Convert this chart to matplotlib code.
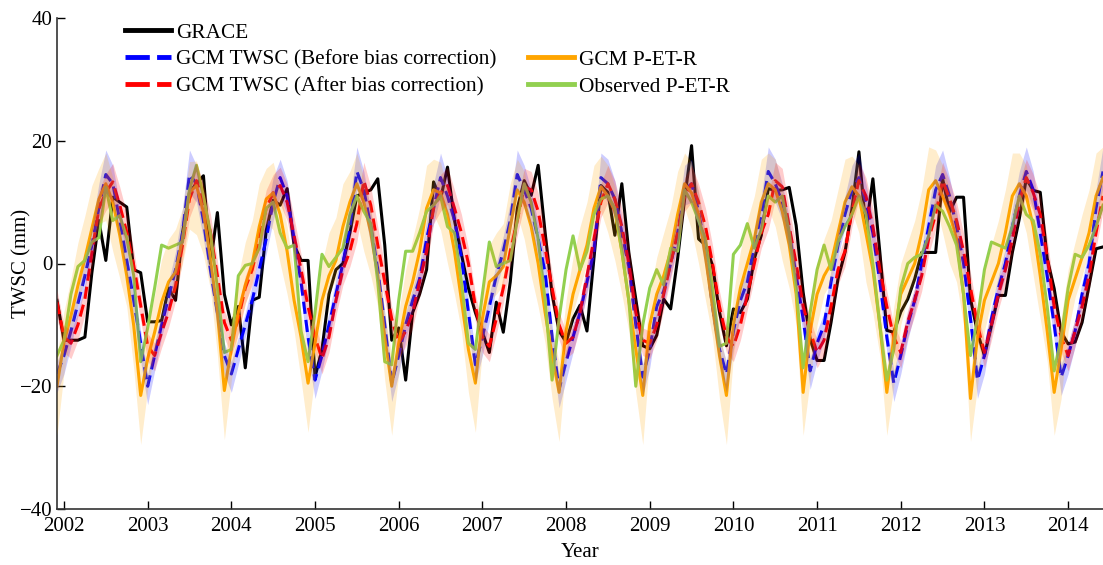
import numpy as np
import matplotlib
matplotlib.use('Agg')
import matplotlib.pyplot as plt
from matplotlib.lines import Line2D

plt.rcParams['font.family'] = ['Liberation Serif', 'DejaVu Serif']

# monthly values, Dec 2001 .. Jun 2014 (151 points), TWSC in mm
grace = ([-6] +
         [-12.5, -12.5, -12.5, -12, -1.5, 7, 0.5, 10.8, 10, 9.2, -1, -1.5] +        # 2002
         [-9.5, -9.5, -9.3, -4, -6, 5, 11.6, 13, 14.3, 0, 8.3, -5] +                # 2003
         [-10, -7, -17, -6, -5.5, 5.4, 10.3, 9.5, 12.2, 3, 0.5, 0.5] +              # 2004
         [-18.5, -14, -5, -1, 0, 5, 11, 11.5, 12, 13.8, 3, -12.5] +                 # 2005
         [-10.5, -19, -8, -5, -1, 13.3, 10.5, 15.7, 7, 1.5, -4, -8] +               # 2006
         [-11.2, -14.5, -6.3, -11.2, -3, 8.9, 13.5, 11.1, 16, 5, -5, -11] +         # 2007
         [-12.8, -9, -6.8, -11, 0.8, 12.7, 11.6, 4.6, 13, 1.8, -5.8, -13.4] +       # 2008
         [-13.9, -11.7, -5.8, -7.4, 0.8, 10.5, 19.2, 4, 3, -0.3, -7.9, -13.4] +     # 2009
         [-7.4, -8, -5.8, 0.8, 4.6, 12.2, 11.9, 12, 12.4, 6.2, -4.7, -12.3] +       # 2010
         [-15.8, -15.8, -9.6, -2.5, 1.8, 8.9, 18.2, 5.5, 13.8, 1.8, -10.9, -11.2] + # 2011
         [-7.9, -5.8, -2.5, 1.8, 1.8, 1.8, 13.8, 8.4, 10.8, 10.8, -5.8, -11.2] +    # 2012
         [-15, -10.1, -5.2, -5.2, 1.8, 7.3, 13.8, 11.9, 11.6, 0.8, -4.1, -11.2] +   # 2013
         [-13.1, -12.8, -9.6, -3.6, 2.4, 2.7])                                      # 2014

gcm_before = ([-18] +
              [-15, -11, -6.5, -2, 3, 9, 14.5, 13, 7, 0.5, -6, -13] +
              [-20, -15, -10, -5.5, -1, 5, 14.5, 13, 7, -1, -8, -15] +
              [-18, -14, -10, -6, -1, 4, 10, 14, 11, 4, -3, -12] +
              [-19, -15, -10, -5, 0, 6, 15, 12, 6, -1, -10, -19.5] +
              [-15, -10, -6, -2.5, 4, 9, 14, 11, 7, 1, -8, -16.5] +
              [-12, -7, -2, 2, 7, 14.5, 12, 9, 4, -1.5, -12, -20.5] +
              [-16, -12, -8, -3, 2, 14, 13, 10.5, 5, -0.5, -10, -18.5] +
              [-14, -7, -4.5, 0, 5, 12, 13, 8.5, 2, -7, -14, -18] +
              [-11, -6, -3, 3, 8, 15, 13, 10, 5, -2, -9, -17.5] +
              [-13, -10, -3, 3, 8, 12, 14, 10, 5, -3, -12, -19.5] +
              [-15, -10, -6, 0, 6, 12, 14.5, 11, 6, 0, -9, -19] +
              [-15, -9, -4, 0, 6, 11, 15, 12, 5, -2, -10, -18.5] +
              [-15, -11, -5, 0, 9, 15])

gcm_after = ([-6.3] +
             [-12, -13, -10, -5.8, 1.8, 8.9, 11.6, 13.3, 9.5, 5.1, -0.3, -6.8] +
             [-13.4, -15, -11.2, -7.9, -3.6, 3, 10.5, 13.5, 10, 5.1, -2, -9.6] +
             [-12.5, -9, -4, -1, 4, 9, 11.5, 12.7, 10, 4.5, -1, -7] +
             [-12, -15.5, -12, -6, -1, 2, 6.5, 13.5, 9.5, 3, -3, -9] +
             [-13, -11, -8, -3, 2, 9, 11.5, 12.7, 9, 5, 0, -7] +
             [-12, -13.5, -9, -4, 2, 7, 12.5, 12, 8.5, 2.5, -4, -10] +
             [-13, -12, -8, -2, 4, 10, 13, 10.5, 6, 0, -8, -12.5] +
             [-13, -10, -5, 0, 5, 11, 13, 10, 6, 0, -7, -12] +
             [-13.5, -10, -5, 0, 5, 8, 13.5, 12.5, 6, 0, -7, -11] +
             [-14.5, -12.5, -7, -1, 2, 8.5, 13.5, 11, 6, -1, -7, -12] +
             [-14.5, -9.5, -6, -2, 4, 8, 13.5, 10.5, 7, 2, -4, -10] +
             [-14.5, -10, -5, -1, 4, 10, 14, 11.5, 8, 1, -7, -12] +
             [-15, -11, -7, -2, 5, 11])

gcm_petr = ([-20] +
            [-12.8, -8.5, -3.6, 0.8, 5.7, 10.5, 13, 10, 4.6, -2, -10.1, -21.5] +
            [-15.5, -11.2, -6.3, -3, -1.4, 4, 11.6, 12.7, 8.4, 0.8, -7.9, -20.7] +
            [-14, -8, -3.5, 0, 6, 10.5, 11.5, 8, 2, -6, -12, -19.5] +
            [-13, -6, -2, 0.5, 6, 10, 13, 10, 5, -2, -12, -20] +
            [-13, -7, -3, 2, 9, 12, 11.5, 8, 2, -6, -14, -19.5] +
            [-9, -3, -2, -0.5, 6, 12, 10, 6, 0, -8, -15, -21] +
            [-11, -5, -1, 3, 9, 12.5, 11, 8.5, 2, -6, -14, -21.5] +
            [-10, -5, -2, 2, 8, 13, 11.5, 8, 1, -7, -15, -21.5] +
            [-10, -4, 0, 4, 10, 13, 12, 8.5, 3, -5, -21, -11] +
            [-5, -2, 0, 5, 10, 12.5, 11, 5, -1, -10, -21, -12] +
            [-5, -2.5, 0, 5, 12, 13.5, 11, 8, 4, -5, -22, -12] +
            [-6, -3, 0, 5, 11, 13, 11, 6, -2, -11, -21, -14] +
            [-6, -2.5, 1, 5, 11, 14])

obs_petr = ([-15] +
            [-12.5, -5, -0.5, 0.5, 3.5, 4.2, 12.4, 7, 7.8, 4.2, -2, -16] +
            [-10.5, -4, 3, 2.5, 3, 3.5, 12, 16, 11, 5, -4, -14.5] +
            [-14, -2, -0.3, 0, 2.5, 9, 10, 5, 2.5, 3, -11, -16] +
            [-8, 1.5, -0.5, 1, 2.5, 8, 11, 8.5, 6.5, -3, -16, -16.5] +
            [-6, 2, 2, 5, 8.5, 9.5, 11, 6, 5, -3, -13, -14] +
            [-5, 3.5, -0.5, 0, 0.5, 7, 13, 10, 4, -6, -19, -9] +
            [-1, 4.5, -1, 2, 8, 10.5, 11, 9, 2, -6, -20, -10] +
            [-4, -1, -3.5, 2.5, 2, 12, 10, 7, 4, -4, -13.5, -13] +
            [1.5, 3, 6.5, 2.5, 5.5, 11, 10, 11, 5, -4, -17, -8] +
            [-1, 3, -1, 3.5, 6, 8, 11, 8, 0, -10, -19, -14] +
            [-4, 0, 1, 1.5, 4.5, 9.5, 8.5, 6, 3, -5, -15, -9] +
            [-1, 3.5, 3, 2.5, 6, 11, 8, 7, 1.5, -7, -17.5, -12] +
            [-4, 1.5, 1, 3, 6, 9.5])

# ensemble spread around each GCM line, by calendar month (Jan..Dec), mm
before_up = [2, 2, 2, 2.5, 3, 4, 4, 3, 2.5, 2, 2, 2]
before_dn = [3, 2.5, 2, 2, 2, 2.5, 3, 3, 3, 2.5, 2.5, 3]
after_up = [2, 2, 2, 2, 2.5, 3, 3, 3, 3, 3, 2.5, 2]
after_dn = [2.5, 2.5, 2.5, 2.5, 2.5, 2.5, 3, 3, 3, 3, 3, 2.5]
petr_up = [5, 6, 7, 7, 7, 5, 5, 4, 4, 4, 4, 5]
petr_dn = [5, 3, 3, 3, 3, 4, 6, 8, 7, 5, 7, 8]

n = len(grace)
t = 2002 + (np.arange(n) - 1) / 12.0
month = (np.arange(n) - 1) % 12

c_blue = '#0000ff'
c_red = '#ff0000'
c_orange = '#ffa500'
c_green = '#92d050'

fig = plt.figure(figsize=(11.03, 5.65), dpi=100)
ax = fig.add_axes([57 / 1103, 1 - 509 / 565, 1 - 57 / 1103, 491 / 565])

lw = 2.2
dash = (0, (4, 2))
ax.plot(t, grace, color='k', lw=lw, zorder=2)
ax.plot(t, gcm_before, color=c_blue, lw=lw, ls=dash, zorder=2)
ax.plot(t, gcm_after, color=c_red, lw=lw, ls=dash, zorder=2)
ax.plot(t, gcm_petr, color=c_orange, lw=lw, zorder=2)
ax.plot(t, obs_petr, color=c_green, lw=lw, zorder=2)

bands = [(gcm_before, before_up, before_dn, c_blue, 0.2),
         (gcm_after, after_up, after_dn, c_red, 0.2),
         (gcm_petr, petr_up, petr_dn, c_orange, 0.2)]
for y, up, dn, c, a in bands:
    y = np.array(y, dtype=float)
    ax.fill_between(t, y - np.array(dn)[month], y + np.array(up)[month],
                    color=c, alpha=a, lw=0, zorder=3)

ax.set_xlim(t[0], t[-1])
ax.set_ylim(-40, 40)
ax.set_xticks(np.arange(2002, 2015))
ax.set_yticks([-40, -20, 0, 20, 40])
ax.tick_params(direction='in', length=6, width=1, labelsize=15, colors='k')
ax.tick_params(axis='x', pad=6)
for s in ['top', 'right']:
    ax.spines[s].set_visible(False)
for s in ['left', 'bottom']:
    ax.spines[s].set_color('#333333')
    ax.spines[s].set_linewidth(1.2)

ax.set_xlabel('Year', fontsize=15, labelpad=5)
ax.set_ylabel('TWSC (mm)', fontsize=15)
ax.yaxis.set_label_coords(-0.024, 0.5)

handles = [Line2D([], [], color='k', lw=3.5),
           Line2D([], [], color=c_blue, lw=3.5, ls=(0, (5, 1.5))),
           Line2D([], [], color=c_red, lw=3.5, ls=(0, (5, 1.5))),
           Line2D([], [], color='none'),
           Line2D([], [], color=c_orange, lw=3.5),
           Line2D([], [], color=c_green, lw=3.5)]
labels = ['GRACE', 'GCM TWSC (Before bias correction)', 'GCM TWSC (After bias correction)',
          ' ', 'GCM P-ET-R', 'Observed P-ET-R']
ax.legend(handles, labels, ncol=2, frameon=False, loc='upper left',
          bbox_to_anchor=((125 - 57) / 1046, 0.99), borderaxespad=0, borderpad=0,
          handlelength=2.15, handletextpad=0.25, columnspacing=1.5, labelspacing=0.33,
          fontsize=15.3)

fig.savefig('out.png', dpi=100)
